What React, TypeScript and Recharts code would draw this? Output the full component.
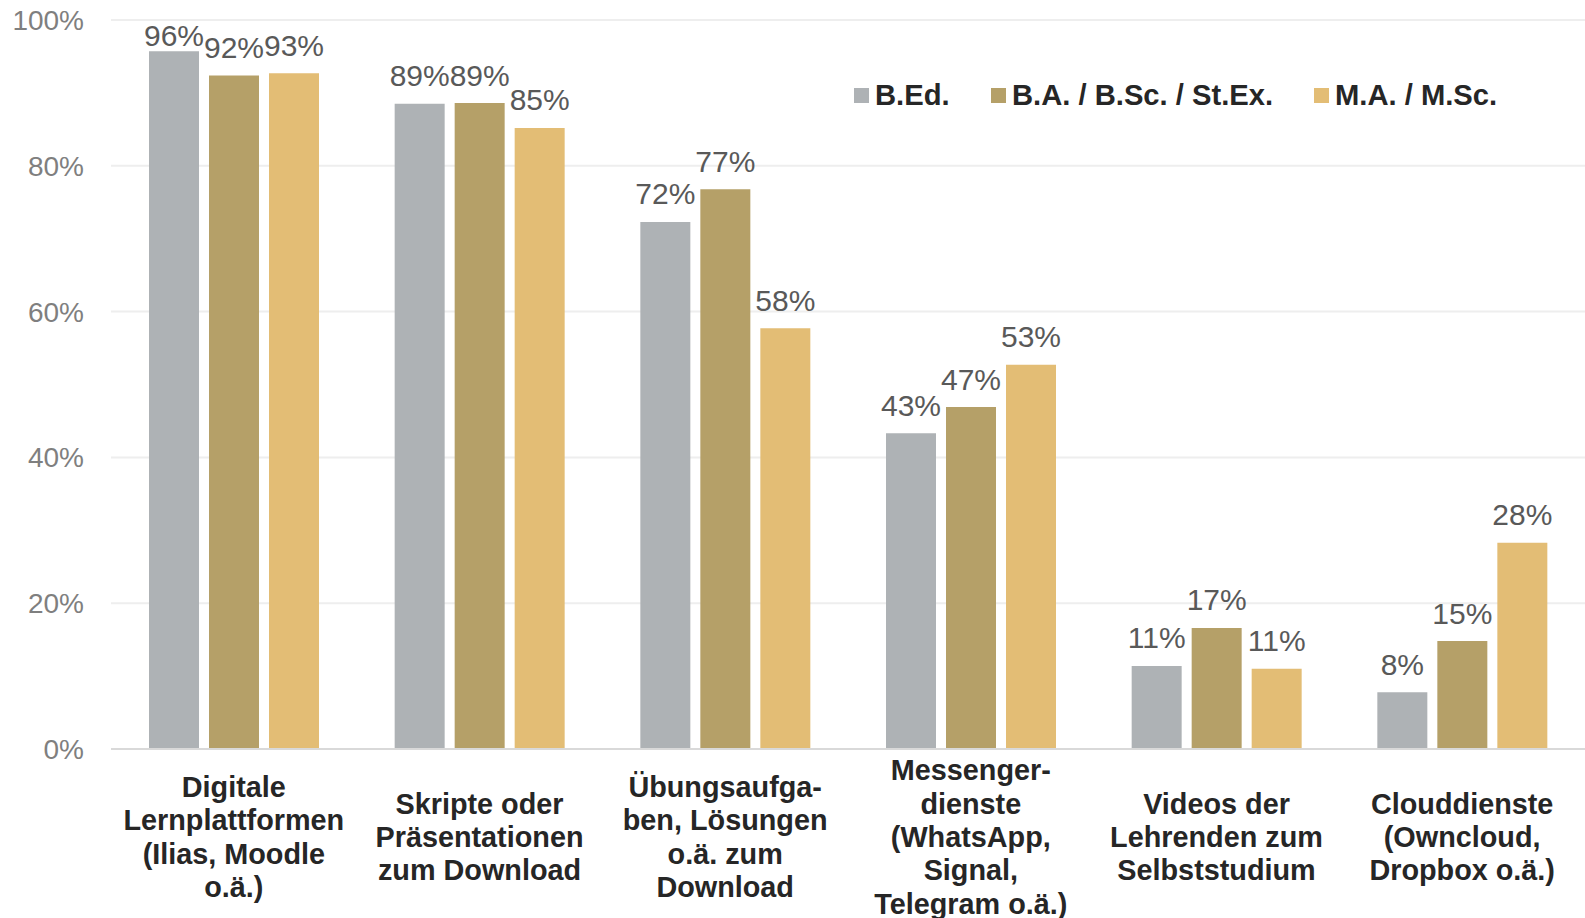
import React from "react";
import {
  BarChart,
  Bar,
  XAxis,
  YAxis,
  CartesianGrid,
  Legend,
  LabelList,
} from "recharts";

const CATEGORIES = [
  "Digitale\nLernplattformen\n(Ilias, Moodle\no.ä.)",
  "Skripte oder\nPräsentationen\nzum Download",
  "Übungsaufga-\nben, Lösungen\no.ä. zum\nDownload",
  "Messenger-\ndienste\n(WhatsApp,\nSignal,\nTelegram o.ä.)",
  "Videos der\nLehrenden zum\nSelbststudium",
  "Clouddienste\n(Owncloud,\nDropbox o.ä.)",
];

const BED = [95.7, 88.5, 72.3, 43.3, 11.4, 7.8];
const BA = [92.4, 88.6, 76.8, 46.9, 16.6, 14.8];
const MA = [92.7, 85.2, 57.7, 52.7, 11.0, 28.3];

const Y_TICKS = [0, 20, 40, 60, 80, 100];

const SERIES = [
  { key: "bed", name: "B.Ed.", color: "#AEB2B5", width: 137 },
  { key: "ba", name: "B.A. / B.Sc. / St.Ex.", color: "#B5A068", width: 323 },
  { key: "ma", name: "M.A. / M.Sc.", color: "#E3BD75", width: 220 },
];

const data = CATEGORIES.map((name, i) => ({
  name,
  bed: BED[i],
  ba: BA[i],
  ma: MA[i],
}));

const FONT = "'Liberation Sans', Arial, sans-serif";

function CategoryTick(props: any) {
  const { x, y, payload } = props;
  const lines = String(payload.value).split("\n");
  const n = lines.length;
  return (
    <g>
      {lines.map((line, i) => (
        <text
          key={i}
          x={x}
          y={y + 86 + (i - (n - 1) / 2) * 33.4}
          textAnchor="middle"
          dominantBaseline="central"
          fill="#262626"
          fontSize={28.8}
          fontWeight="bold"
          fontFamily={FONT}
        >
          {line}
        </text>
      ))}
    </g>
  );
}

// value label above the bar; kept inside the top of the chart
function ValueLabel(props: any) {
  const { x, y, width, value } = props;
  const cy = Math.max(y - 28, 35);
  return (
    <text
      x={x + width / 2}
      y={cy}
      textAnchor="middle"
      dominantBaseline="central"
      fill="#595959"
      fontSize={30}
      fontFamily={FONT}
    >
      {`${Math.round(Number(value))}%`}
    </text>
  );
}

function LegendContent() {
  return (
    <div style={{ display: "flex", alignItems: "center", fontFamily: FONT }}>
      {SERIES.map((s) => (
        <div
          key={s.key}
          style={{ display: "flex", alignItems: "center", width: s.width }}
        >
          <span
            style={{
              display: "inline-block",
              width: 15,
              height: 15,
              background: s.color,
              marginRight: 6,
            }}
          />
          <span style={{ fontSize: 29.2, fontWeight: "bold", color: "#262626" }}>
            {s.name}
          </span>
        </div>
      ))}
    </div>
  );
}

export default function App() {
  return (
    <div style={{ position: "absolute", left: 0, top: 0, background: "#fff" }}>
      <BarChart
        width={1585}
        height={918}
        data={data}
        margin={{ top: 20, right: 0, left: 0, bottom: 0 }}
        barSize={50}
        barGap={10}
      >
        <CartesianGrid horizontal vertical={false} stroke="#eeeeee" strokeWidth={2} />
        <XAxis
          dataKey="name"
          height={169}
          tickSize={0}
          tickLine={false}
          axisLine={{ stroke: "#d9d9d9", strokeWidth: 2 }}
          tick={<CategoryTick />}
          interval={0}
        />
        <YAxis
          width={111}
          domain={[0, 100]}
          ticks={Y_TICKS}
          axisLine={false}
          tickLine={false}
          tickMargin={21}
          tickFormatter={(v) => `${v}%`}
          tick={{ fill: "#7f7f7f", fontSize: 28, fontFamily: FONT }}
        />
        <Legend
          layout="horizontal"
          verticalAlign="middle"
          align="center"
          wrapperStyle={{ top: 79, left: 854, width: 720 }}
          content={<LegendContent />}
        />
        {SERIES.map((s) => (
          <Bar
            key={s.key}
            dataKey={s.key}
            name={s.name}
            fill={s.color}
            isAnimationActive={false}
          >
            <LabelList dataKey={s.key} content={<ValueLabel />} />
          </Bar>
        ))}
      </BarChart>
    </div>
  );
}
